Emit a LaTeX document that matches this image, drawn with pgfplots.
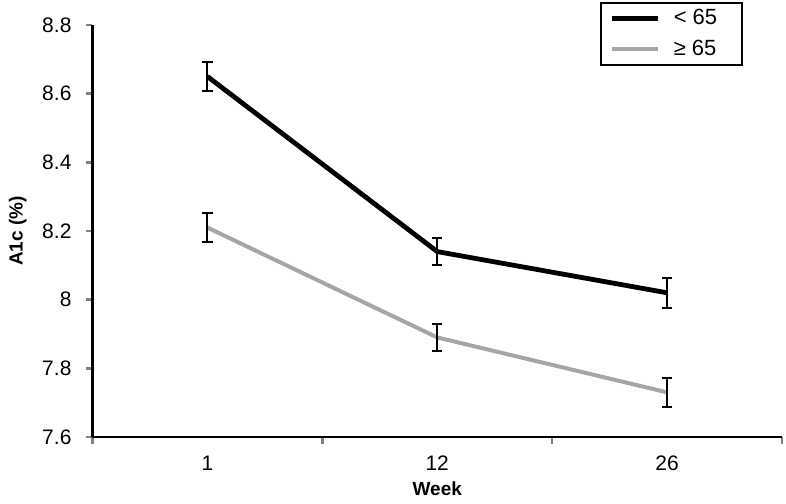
\documentclass[border=0pt]{standalone}
\usepackage{fontspec}
\setmainfont{Liberation Sans}
\usepackage{pgfplots}
\pgfplotsset{compat=1.18}
\usetikzlibrary{calc}
\definecolor{lightgr}{RGB}{166,166,166}
\begin{document}
\begin{tikzpicture}
\begin{axis}[
  scale only axis,
  width=344.75pt, height=206pt,
  xmin=0.5, xmax=3.5, ymin=7.6, ymax=8.8,
  axis x line*=bottom, axis y line*=left,
  axis line style={line width=1.2pt, -},
  xtick={1,2,3}, xticklabels={1,12,26},
  minor xtick={0.5,1.5,2.5,3.5},
  major x tick style={draw=none},
  minor x tick style={line width=1.2pt},
  minor tick length=3.5pt,
  ytick={7.6,7.8,8.0,8.2,8.4,8.6,8.8},
  yticklabels={7.6,7.8,8,8.2,8.4,8.6,8.8},
  major tick length=3pt,
  tick align=outside,
  ytick style={line width=1.2pt},
  tick label style={font=\fontsize{10.5}{12}\selectfont},
  xticklabel style={yshift=-3pt},
  yticklabel style={xshift=-4pt},
  /pgf/number format/assume math mode=true,
  xlabel={\textbf{Week}}, ylabel={\textbf{A1c (\%)}},
  label style={font=\fontsize{9.5}{11}\selectfont},
  xlabel style={yshift=1.5pt},
  ylabel style={yshift=1pt},
  legend style={at={(0.736,1.056)}, anchor=north west, draw=black, line width=1pt,
    font=\fontsize{11}{13}\selectfont, inner xsep=4.5pt, inner ysep=1pt,
    row sep=2.5pt, cells={anchor=west}},
  legend cell align=left,
  clip=false,
]
\addplot[black, line width=2.4pt, mark=none,
  legend image code/.code={\draw[black,line width=2.4pt] (0pt,0pt) -- (23pt,0pt); \path (27.5pt,0pt);},
  error bars/.cd, y dir=both, y explicit,
  error bar style={black, line width=1pt},
  error mark options={rotate=90, mark size=2.6pt, black, line width=1pt}]
  coordinates {(1,8.65) +- (0,0.043) (2,8.14) +- (0,0.04) (3,8.02) +- (0,0.043)};
\addlegendentry{\makebox[27.5pt][l]{< 65}}
\addplot[lightgr, line width=2pt, mark=none,
  legend image code/.code={\draw[lightgr,line width=2pt] (0pt,0pt) -- (23pt,0pt); \path (27.5pt,0pt);},
  error bars/.cd, y dir=both, y explicit,
  error bar style={black, line width=1pt},
  error mark options={rotate=90, mark size=2.6pt, black, line width=1pt}]
  coordinates {(1,8.21) +- (0,0.043) (2,7.89) +- (0,0.04) (3,7.73) +- (0,0.043)};
\addlegendentry{\makebox[27.5pt][l]{≥ 65}}
\end{axis}
\useasboundingbox ($(current axis.south west)+(-46.25pt,-33pt)$) rectangle ($(current axis.north east)+(2pt,12.5pt)$);
\end{tikzpicture}
\end{document}
